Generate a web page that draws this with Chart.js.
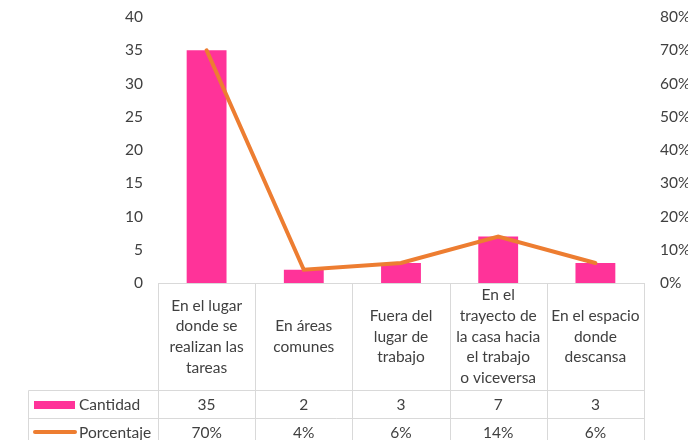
<!DOCTYPE html>
<html>
<head>
<meta charset="utf-8">
<script src="https://cdn.jsdelivr.net/npm/chart.js@4/dist/chart.umd.min.js"></script>
<style>
  html, body { margin: 0; padding: 0; background: #fff; }
  #wrap { width: 688px; height: 440px; }
</style>
</head>
<body>
<div id="wrap"><canvas id="Chart" width="688" height="440"></canvas></div>
<script>
var categorias = [
    ['En el lugar', 'donde se', 'realizan las', 'tareas'],
    ['En áreas', 'comunes'],
    ['Fuera del', 'lugar de', 'trabajo'],
    ['En el', 'trayecto de', 'la casa hacia', 'el trabajo', 'o viceversa'],
    ['En el espacio', 'donde', 'descansa']
];
var cantidad = [35, 2, 3, 7, 3];
var porcentaje = [70, 4, 6, 14, 6];
var serieNombres = ['Cantidad', 'Porcentaje'];

var rosa = '#FF3399';
var naranja = '#ED7D31';
var gris = '#D9D9D9';
var texto = '#404040';
var fuente = 'Lato, "Open Sans", sans-serif';
var tam = 15.5;

// draws the data table under the plot, like Excel does
var tablaPlugin = {
    id: 'tabla',
    afterDraw: function(chart) {
        var ctx = chart.ctx;
        var x = chart.scales.x;
        var area = chart.chartArea;
        var top = area.bottom;
        var fila1 = 390.5, fila2 = 418.5, abajo = 440;
        var izq = 28.5;
        var n = categorias.length;
        var ancho = (area.right - area.left) / n;

        ctx.save();
        ctx.strokeStyle = gris;
        ctx.lineWidth = 1;
        ctx.beginPath();
        ctx.moveTo(area.left, top + 0.5); ctx.lineTo(area.right, top + 0.5);
        ctx.moveTo(izq, fila1); ctx.lineTo(area.right, fila1);
        ctx.moveTo(izq, fila2); ctx.lineTo(area.right, fila2);
        ctx.moveTo(izq, fila1); ctx.lineTo(izq, abajo);
        for (var i = 0; i <= n; i++) {
            var lx = Math.round(area.left + ancho * i) + 0.5;
            ctx.moveTo(lx, top); ctx.lineTo(lx, abajo);
        }
        ctx.stroke();

        ctx.fillStyle = texto;
        ctx.font = tam + 'px ' + fuente;
        ctx.textAlign = 'center';
        ctx.textBaseline = 'middle';
        var alto = 20.7;
        var centro = (top + fila1) / 2;
        for (var i = 0; i < n; i++) {
            var cx = x.getPixelForValue(i);
            var lineas = categorias[i];
            var y0 = centro - (lineas.length - 1) * alto / 2;
            for (var j = 0; j < lineas.length; j++) {
                ctx.fillText(lineas[j], cx, y0 + j * alto);
            }
            ctx.fillText(String(cantidad[i]), cx, (fila1 + fila2) / 2);
            ctx.fillText(porcentaje[i] + '%', cx, fila2 + 14.5);
        }

        // legend keys
        ctx.fillStyle = rosa;
        ctx.fillRect(34, 401, 41, 8);
        ctx.strokeStyle = naranja;
        ctx.lineWidth = 4;
        ctx.lineCap = 'round';
        ctx.beginPath();
        ctx.moveTo(35, 432); ctx.lineTo(75, 432);
        ctx.stroke();
        ctx.fillStyle = texto;
        ctx.textAlign = 'left';
        ctx.fillText(serieNombres[0], 79, (fila1 + fila2) / 2);
        ctx.fillText(serieNombres[1], 79, fila2 + 14.5);
        ctx.restore();
    }
};

function fijarEje(ancho) {
    return function(s) {
        s.width = ancho;
        s.paddingTop = 0;
        s.paddingBottom = 0;
    };
}

var ctx = document.getElementById('Chart').getContext('2d');
var myChart = new Chart(ctx, {
    type: 'bar',
    data: {
        labels: categorias,
        datasets: [{
            type: 'line',
            label: serieNombres[1],
            data: porcentaje,
            yAxisID: 'y1',
            borderColor: naranja,
            borderWidth: 4,
            borderCapStyle: 'round',
            tension: 0,
            pointRadius: 0,
            order: 0
        }, {
            type: 'bar',
            label: serieNombres[0],
            data: cantidad,
            yAxisID: 'y',
            backgroundColor: rosa,
            borderWidth: 0,
            barPercentage: 0.41,
            categoryPercentage: 1,
            order: 1
        }]
    },
    options: {
        responsive: false,
        animation: false,
        layout: { padding: { top: 17, bottom: 157, left: 0, right: 0 } },
        plugins: { legend: { display: false }, tooltip: { enabled: false } },
        scales: {
            x: { display: false },
            y: {
                position: 'left',
                min: 0, max: 40,
                grid: { display: false, drawTicks: false },
                border: { display: false },
                ticks: { stepSize: 5, padding: 15, color: texto, font: { family: fuente, size: tam } },
                afterFit: fijarEje(158)
            },
            y1: {
                position: 'right',
                min: 0, max: 80,
                grid: { display: false, drawTicks: false },
                border: { display: false },
                ticks: { stepSize: 10, padding: 16, color: texto, font: { family: fuente, size: tam },
                    callback: function(v) { return v + '%'; } },
                afterFit: fijarEje(44)
            }
        }
    },
    plugins: [tablaPlugin]
});
</script>
</body>
</html>
